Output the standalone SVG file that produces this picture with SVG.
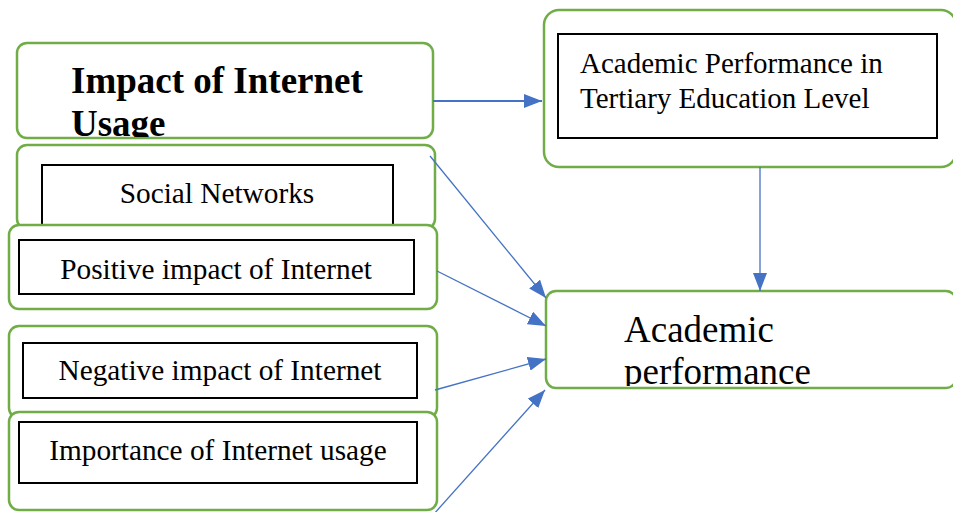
<svg xmlns="http://www.w3.org/2000/svg" width="953" height="512" viewBox="0 0 953 512">
  <style>
    .outer { fill: #ffffff; stroke: #70AD47; stroke-width: 2.5; }
    .inner { fill: #ffffff; stroke: #000000; stroke-width: 2; }
    .t { font-family: "Liberation Serif", "Times New Roman", serif; fill: #000000; }
    .reg { font-size: 29.3px; }
    .conn { stroke: #4472C4; fill: none; }
  </style>
  <defs>
    <marker id="arrow" viewBox="0 0 18 14" refX="18" refY="7" markerWidth="18" markerHeight="14" markerUnits="userSpaceOnUse" orient="auto">
      <path d="M0,0 L18,7 L0,14 z" fill="#4472C4"/>
    </marker>
    <clipPath id="clipImpact"><rect x="17" y="43" width="416" height="94"/></clipPath>
    <clipPath id="clipAcad"><rect x="546" y="291" width="410" height="95"/></clipPath>
  </defs>

  <g id="node-impact">
    <rect class="outer" x="17" y="43" width="416" height="95" rx="10"/>
    <text class="t" clip-path="url(#clipImpact)" font-size="37" font-weight="bold"><tspan x="71" y="93">Impact of Internet</tspan><tspan x="71" y="136">Usage</tspan></text>
  </g>

  <g id="node-social">
    <rect class="outer" x="17" y="145" width="418" height="84" rx="10"/>
    <rect class="inner" x="42" y="165" width="351" height="60"/>
    <text class="t reg" x="217" y="203" text-anchor="middle">Social Networks</text>
  </g>

  <g id="node-positive">
    <rect class="outer" x="9" y="225" width="428" height="84" rx="10"/>
    <rect class="inner" x="19" y="240" width="395" height="54"/>
    <text class="t reg" x="216" y="279" text-anchor="middle">Positive impact of Internet</text>
  </g>

  <g id="node-negative">
    <rect class="outer" x="9" y="326" width="428" height="92" rx="10"/>
    <rect class="inner" x="23" y="343" width="394" height="55"/>
    <text class="t reg" x="220" y="380" text-anchor="middle">Negative impact of Internet</text>
  </g>

  <g id="node-importance">
    <rect class="outer" x="9" y="412" width="428" height="98" rx="10"/>
    <rect class="inner" x="19" y="422" width="398" height="61"/>
    <text class="t reg" x="218" y="460" text-anchor="middle">Importance of Internet usage</text>
  </g>

  <g id="node-tertiary">
    <rect class="outer" x="544" y="10" width="412" height="157" rx="15"/>
    <rect class="inner" x="558" y="34" width="379" height="104"/>
    <text class="t" font-size="29"><tspan x="580" y="73">Academic Performance in</tspan><tspan x="580" y="108">Tertiary Education Level</tspan></text>
  </g>

  <g id="node-academic">
    <rect class="outer" x="546" y="291" width="410" height="97" rx="10"/>
    <text class="t" clip-path="url(#clipAcad)" font-size="37"><tspan x="624" y="342">Academic</tspan><tspan x="624" y="384">performance</tspan></text>
  </g>

  <g id="connectors">
    <line class="conn" stroke-width="1.8" x1="433" y1="101" x2="542" y2="101" marker-end="url(#arrow)"/>
    <line class="conn" stroke-width="1.3" x1="760" y1="167" x2="760" y2="291" marker-end="url(#arrow)"/>
    <line class="conn" stroke-width="1.3" x1="430" y1="156" x2="546" y2="298" marker-end="url(#arrow)"/>
    <line class="conn" stroke-width="1.3" x1="437" y1="271" x2="546" y2="326" marker-end="url(#arrow)"/>
    <line class="conn" stroke-width="1.3" x1="435" y1="390" x2="546" y2="359" marker-end="url(#arrow)"/>
    <line class="conn" stroke-width="1.3" x1="433" y1="515" x2="545" y2="390" marker-end="url(#arrow)"/>
  </g>
</svg>
